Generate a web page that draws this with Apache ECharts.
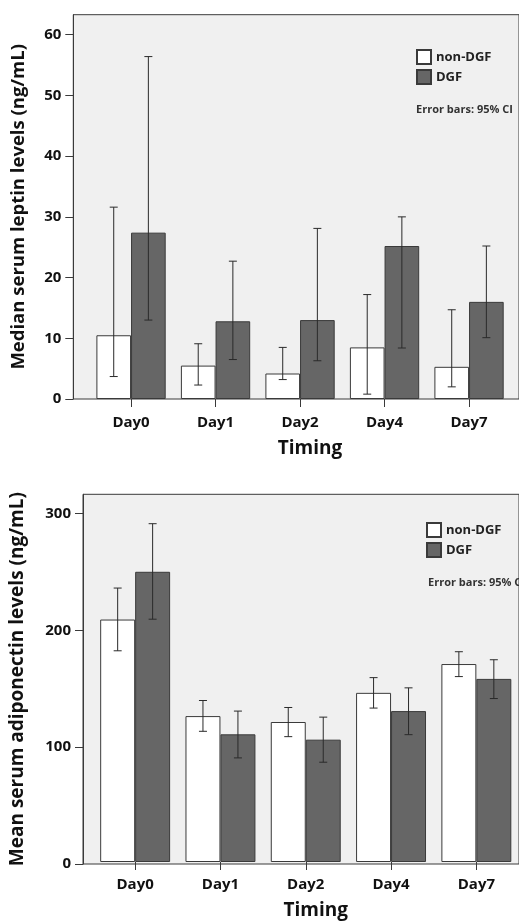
<!DOCTYPE html>
<html>
<head>
<meta charset="utf-8">
<script src="https://cdn.jsdelivr.net/npm/echarts@6/dist/echarts.min.js"></script>
<style>
html,body{margin:0;padding:0;background:#fff;}
#c{width:519px;height:921px;}
</style>
</head>
<body>
<div id="c"></div>
<script>
const categories = ['Day0', 'Day1', 'Day2', 'Day4', 'Day7'];

const leptinNonDGF     = [10.5, 5.5, 4.2, 8.5, 5.3];
const leptinNonDGFLow  = [3.7, 2.3, 3.2, 0.8, 2.0];
const leptinNonDGFHigh = [31.6, 9.1, 8.5, 17.2, 14.7];
const leptinDGF        = [27.4, 12.8, 13.0, 25.2, 16.0];
const leptinDGFLow     = [13.0, 6.5, 6.3, 8.4, 10.1];
const leptinDGFHigh    = [56.4, 22.7, 28.1, 30.0, 25.2];

const adipoNonDGF     = [208.7, 125.6, 120.5, 145.6, 170.4];
const adipoNonDGFLow  = [181.8, 112.5, 107.9, 132.5, 159.6];
const adipoNonDGFHigh = [235.8, 139.0, 133.0, 158.7, 181.0];
const adipoDGF        = [249.8, 109.9, 105.3, 129.9, 157.6];
const adipoDGFLow     = [209.0, 89.6, 85.9, 109.6, 140.7];
const adipoDGFHigh    = [291.2, 129.9, 124.7, 149.9, 174.1];

const leptinTicks = [0, 10, 20, 30, 40, 50, 60];
const adipoTicks = [0, 100, 200, 300];
const leptinMax = 63.3;
const adipoMax = 316.5;

const FONT = '"Open Sans", "DejaVu Sans", sans-serif';
const GAP = 0.18;
const BORDER = '#3a3a3a';

function errData(lo, hi) {
  return lo.map((v, i) => [i, v, hi[i]]);
}
function errRender(side) {
  return function (params, api) {
    const i = api.value(0);
    const p1 = api.coord([i, api.value(1)]);
    const p2 = api.coord([i, api.value(2)]);
    const band = api.size([1, 0])[0];
    const bw = band * (1 - GAP) / 2;
    const x = p1[0] + side * bw / 2;
    const cap = 4;
    const st = { stroke: '#2a2a2a', lineWidth: 1 };
    return {
      type: 'group',
      children: [
        { type: 'line', shape: { x1: x, y1: p1[1], x2: x, y2: p2[1] }, style: st },
        { type: 'line', shape: { x1: x - cap, y1: p1[1], x2: x + cap, y2: p1[1] }, style: st },
        { type: 'line', shape: { x1: x - cap, y1: p2[1], x2: x + cap, y2: p2[1] }, style: st }
      ]
    };
  };
}

const frames = [
  { left: 73.3, top: 14.7, height: 384.3, bandLeft: 88.8, bandWidth: 422.5, labelMargin: 16 },
  { left: 77, top: 494.3, height: 369.7, bandLeft: 92.5, bandWidth: 434.5, labelMargin: 15 }
];

const grid = [];
frames.forEach(f => {
  grid.push({ left: f.left, top: f.top, width: 470, height: f.height, show: true,
    backgroundColor: '#f0f0f0', borderColor: BORDER, borderWidth: 1, containLabel: false });
  grid.push({ left: f.bandLeft, top: f.top, width: f.bandWidth, height: f.height, containLabel: false });
});

const axisText = { fontFamily: FONT, fontWeight: 'bold', fontSize: 15, color: '#111' };

function catAxis(gi, margin, gap) {
  return { gridIndex: gi, type: 'category', data: categories, boundaryGap: true,
    axisLine: { show: false },
    axisTick: { show: true, alignWithLabel: true, length: 8, lineStyle: { color: BORDER } },
    axisLabel: Object.assign({ margin: margin }, axisText),
    name: 'Timing', nameLocation: 'middle', nameGap: gap,
    nameTextStyle: { fontFamily: FONT, fontWeight: 'bold', fontSize: 19, color: '#111', padding: [0, 0, 0, 20] } };
}

const xAxis = [
  { gridIndex: 0, type: 'value', show: false, min: 0, max: 1 },
  catAxis(1, frames[0].labelMargin, 40),
  { gridIndex: 2, type: 'value', show: false, min: 0, max: 1 },
  catAxis(3, frames[1].labelMargin, 39)
];

function visibleY(gi, max, ticks, interval, name, gap, size) {
  return { gridIndex: gi, type: 'value', min: 0, max: max, interval: interval,
    axisLine: { show: true, lineStyle: { color: BORDER } },
    axisTick: { show: true, length: 8, customValues: ticks, lineStyle: { color: BORDER } },
    axisLabel: Object.assign({ margin: 12, customValues: ticks }, axisText),
    splitLine: { show: false },
    name: name, nameLocation: 'middle', nameGap: gap,
    nameTextStyle: { fontFamily: FONT, fontWeight: 'bold', fontSize: size, color: '#111' } };
}
function hiddenY(gi, max) {
  return { gridIndex: gi, type: 'value', min: 0, max: max, show: false, splitLine: { show: false } };
}

const yAxis = [
  visibleY(0, leptinMax, leptinTicks, 10, 'Median serum leptin levels (ng/mL)', 45, 18.5),
  hiddenY(1, leptinMax),
  visibleY(2, adipoMax, adipoTicks, 100, 'Mean serum adiponectin levels (ng/mL)', 56, 19),
  hiddenY(3, adipoMax)
];

const nonStyle = { color: '#ffffff', borderColor: BORDER, borderWidth: 1 };
const dgfStyle = { color: '#666666', borderColor: BORDER, borderWidth: 1 };

function barSeries(name, data, xi, yi, style) {
  return { type: 'bar', name: name, data: data, xAxisIndex: xi, yAxisIndex: yi,
    barGap: '0%', barCategoryGap: (GAP * 100) + '%', itemStyle: style, silent: true, z: 2 };
}
function errSeries(lo, hi, xi, yi, side) {
  return { type: 'custom', data: errData(lo, hi), xAxisIndex: xi, yAxisIndex: yi,
    renderItem: errRender(side), encode: { x: 0, y: [1, 2] }, silent: true, z: 5 };
}

const series = [
  barSeries('non-DGF', leptinNonDGF, 1, 1, nonStyle),
  barSeries('DGF', leptinDGF, 1, 1, dgfStyle),
  errSeries(leptinNonDGFLow, leptinNonDGFHigh, 1, 1, -1),
  errSeries(leptinDGFLow, leptinDGFHigh, 1, 1, 1),
  barSeries('non-DGF ', adipoNonDGF, 3, 3, nonStyle),
  barSeries('DGF ', adipoDGF, 3, 3, dgfStyle),
  errSeries(adipoNonDGFLow, adipoNonDGFHigh, 3, 3, -1),
  errSeries(adipoDGFLow, adipoDGFHigh, 3, 3, 1)
];

const legendText = { fontFamily: FONT, fontWeight: 'bold', fontSize: 13, color: '#222' };
function legendFor(names, left, top) {
  return { data: names, left: left, top: top, orient: 'vertical', itemWidth: 14, itemHeight: 14,
    itemGap: 4, icon: 'rect', textStyle: legendText, selectedMode: false, padding: 0,
    formatter: n => n.trim() };
}

const option = {
  animation: false,
  backgroundColor: '#ffffff',
  grid: grid,
  xAxis: xAxis,
  yAxis: yAxis,
  series: series,
  legend: [
    legendFor(['non-DGF', 'DGF'], 416, 49),
    legendFor(['non-DGF ', 'DGF '], 426, 522)
  ],
  title: [
    { text: 'Error bars: 95% CI', left: 416, top: 104, padding: 0,
      textStyle: { fontFamily: FONT, fontWeight: 'bold', fontSize: 11, color: '#333' } },
    { text: 'Error bars: 95% CI', left: 428, top: 577, padding: 0,
      textStyle: { fontFamily: FONT, fontWeight: 'bold', fontSize: 11, color: '#333' } }
  ]
};

const chart = echarts.init(document.getElementById('c'), null, { renderer: 'canvas' });
chart.setOption(option);
</script>
</body>
</html>
